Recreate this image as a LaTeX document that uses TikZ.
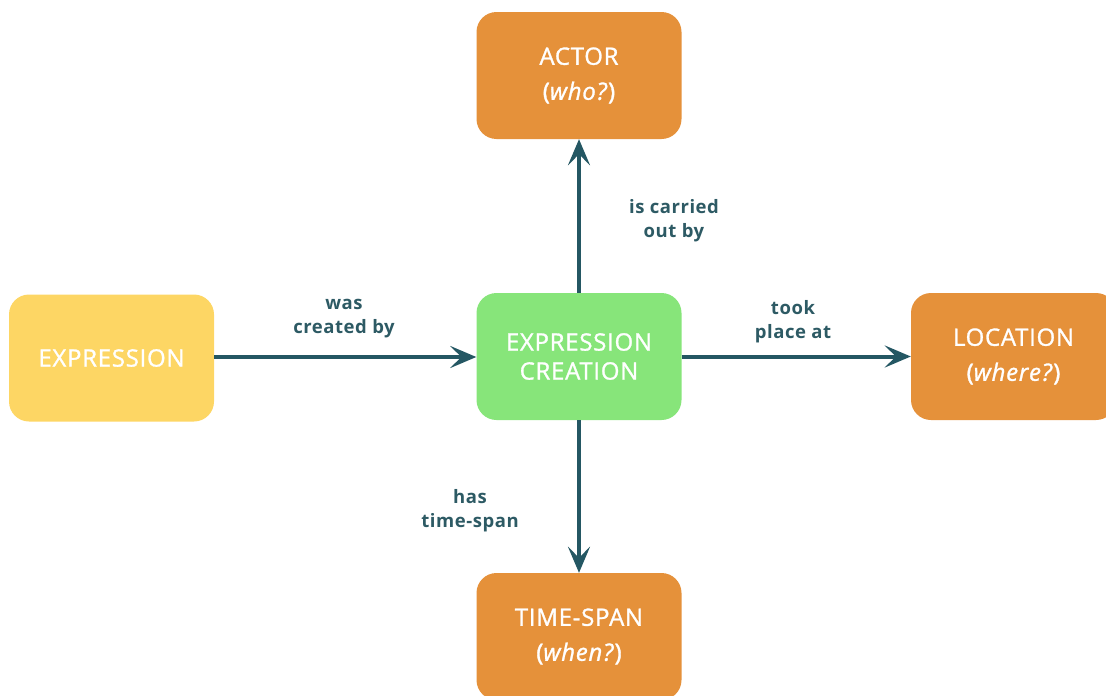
\documentclass[tikz,border=0pt]{standalone}
\usepackage{fontspec}
\setmainfont{Open Sans}
\usetikzlibrary{arrows.meta}
\definecolor{orangebox}{HTML}{E5913A}
\definecolor{yellowbox}{HTML}{FDD664}
\definecolor{greenbox}{HTML}{87E57A}
\definecolor{arrowcol}{HTML}{245763}
\definecolor{labelcol}{HTML}{2D5A64}
\newcommand{\boxfnt}[1]{\fontsize{24}{#1}\selectfont\addfontfeatures{FakeBold=1.2,LetterSpace=3}}
\tikzset{
  box/.style={rounded corners=20pt, minimum width=205pt, minimum height=127pt,
    inner sep=0pt, align=center, text=white, font=\boxfnt{35}},
  conn/.style={draw=arrowcol, line width=4pt,
    -{Stealth[length=26pt,width=22pt,inset=11pt]}},
  lbl/.style={text=labelcol, align=center, font=\fontsize{18.5}{24}\selectfont\bfseries\addfontfeatures{LetterSpace=3}}
}
\begin{document}
\begin{tikzpicture}[x=1pt,y=-1pt]
\useasboundingbox (0,0) rectangle (1106,696);
\clip (0,0) rectangle (1106,696);
\node[box, fill=orangebox] (actor) at (579,75.5) {ACTOR\\(\textit{who?})};
\node[box, fill=yellowbox] (expr) at (111.5,358) {EXPRESSION};
\node[box, fill=greenbox, font=\boxfnt{29}] (ec) at (579,356.5) {EXPRESSION\\CREATION};
\node[box, fill=orangebox] (loc) at (1013.5,356.5) {LOCATION\\(\textit{where?})};
\node[box, fill=orangebox] (ts) at (579,636.5) {TIME-SPAN\\(\textit{when?})};
\draw[conn] (expr.east |- 0,357) -- (ec.west |- 0,357);
\draw[conn] (ec.north) -- (actor.south);
\draw[conn] (ec.east) -- (loc.west);
\draw[conn] (ec.south) -- (ts.north);
\node[lbl] (l1) at (344,319) {was\\created by};
\node[lbl] (l2) at (674,221) {is carried\\out by};
\node[lbl] (l3) at (793,322) {took\\place at};
\node[lbl] (l4) at (470,511) {has\\time-span};
\end{tikzpicture}
\end{document}
